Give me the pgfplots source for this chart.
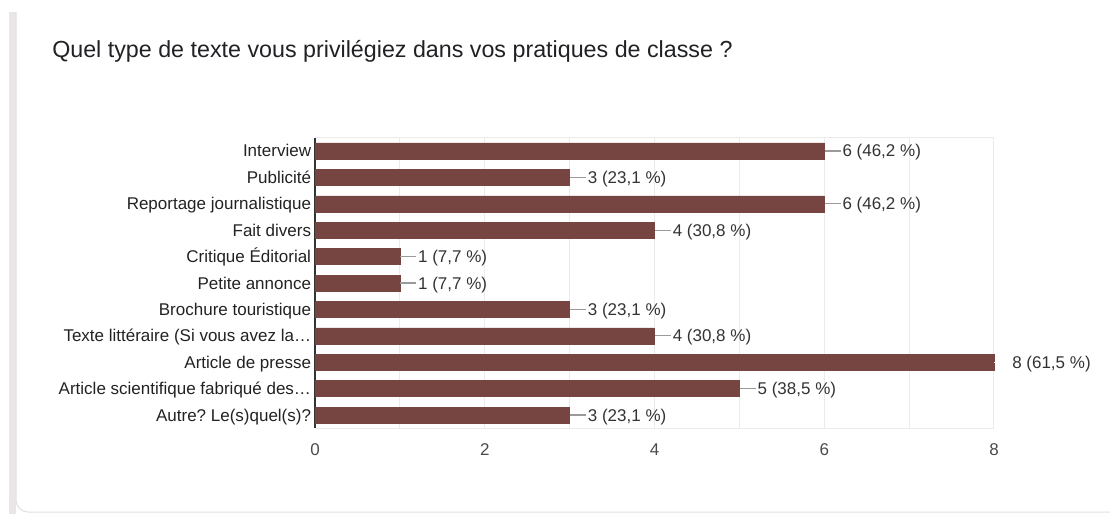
\documentclass[border=0pt]{standalone}
\usepackage{pgfplots}
\pgfplotsset{compat=1.18}
\usepackage{pgfplotstable}
\usepackage{fontspec}
\setmainfont{Liberation Sans}
\frenchspacing
\definecolor{barc}{HTML}{764541}
\definecolor{gridc}{HTML}{EBEBEB}
\definecolor{axisc}{HTML}{333333}
\definecolor{leadc}{HTML}{9A9A9A}
\definecolor{txtc}{HTML}{222222}
\definecolor{valc}{HTML}{333333}
\definecolor{tickc}{HTML}{4A4A4A}
\definecolor{stripc}{HTML}{E9E6E5}
\definecolor{cardc}{HTML}{E0E0E0}
\definecolor{titlec}{HTML}{202124}
\newcommand\lblfont{\fontsize{12.75pt}{15pt}\selectfont}

\pgfplotstableread{
y v lab
0 6 {6 (46,2 \%)}
1 3 {3 (23,1 \%)}
2 6 {6 (46,2 \%)}
3 4 {4 (30,8 \%)}
4 1 {1 (7,7 \%)}
5 1 {1 (7,7 \%)}
6 3 {3 (23,1 \%)}
7 4 {4 (30,8 \%)}
9 5 {5 (38,5 \%)}
10 3 {3 (23,1 \%)}
}\maindata
\pgfplotstableread{
y v lab
8 8 {8 (61,5 \%)}
}\maxdata

\begin{document}
\begin{tikzpicture}
\path[use as bounding box] (0,0) rectangle (832.5pt,385.5pt);
\begin{scope}[yshift=385.5pt,x=0.75pt,y=-0.75pt]
\fill[stripc] (9,12) rectangle (16,514);
\draw[cardc, line width=0.75pt] (16,12) -- (16,500) arc[start angle=180,end angle=90,radius=12] -- (1110,512);
\node[anchor=base west, font=\fontsize{17.45pt}{20pt}\selectfont, text=titlec, inner sep=0pt] at (52,58) {Quel type de texte vous privilégiez dans vos pratiques de classe ?};
\end{scope}

\begin{axis}[
  at={(236.25pt,64.35pt)}, anchor=south west,
  scale only axis, width=509.25pt, height=217.8pt,
  xmin=0, xmax=8, ymin=-0.5, ymax=10.5, y dir=reverse,
  xbar, bar width=12pt, bar shift=0pt,
  clip=false,
  axis line style={draw=none},
  tick style={draw=none},
  xtick={2,4,6,8}, minor xtick={1,3,5,7},
  xmajorgrids, xminorgrids,
  major grid style={draw=gridc, line width=0.75pt},
  minor grid style={draw=gridc, line width=0.75pt},
  extra x ticks={0}, extra x tick labels={0},
  extra x tick style={xmajorgrids, major grid style={draw=axisc, line width=0.9pt}},
  extra y ticks={-0.5,10.5}, extra y tick labels={},
  extra y tick style={ymajorgrids, major grid style={draw=gridc, line width=0.75pt}},
  /pgf/number format/assume math mode=true,
  xticklabel style={font=\lblfont, text=tickc, anchor=north, inner sep=0pt, yshift=-11.25pt},
  ytick={0,...,10},
  yticklabels={{Interview},{Publicité},{Reportage journalistique},{Fait divers},{Critique Éditorial},{Petite annonce},{Brochure touristique},{Texte littéraire (Si vous avez la…},{Article de presse},{Article scientifique fabriqué des…},{Autre? Le(s)quel(s)?}},
  yticklabel style={font=\lblfont, text=txtc, anchor=base east, inner sep=0pt, xshift=1.5pt, yshift=-4.5pt},
  point meta=explicit symbolic,
  every node near coord/.append style={font=\lblfont, text=valc, anchor=base west, inner sep=0pt, yshift=-4.5pt},
]
\addplot[fill=barc, draw=barc, line width=0.4pt,
  nodes near coords={\textcolor{leadc}{\rule[4.1pt]{12pt}{0.9pt}}\hspace{1.5pt}\pgfplotspointmeta}]
  table[x=v, y=y, meta=lab] {\maindata};
\addplot[fill=barc, draw=barc, line width=0.4pt,
  nodes near coords={\textcolor{white}{\rule[4.1pt]{12pt}{0.9pt}}\hspace{1.5pt}\pgfplotspointmeta}]
  table[x=v, y=y, meta=lab] {\maxdata};
\end{axis}
\end{tikzpicture}
\end{document}
